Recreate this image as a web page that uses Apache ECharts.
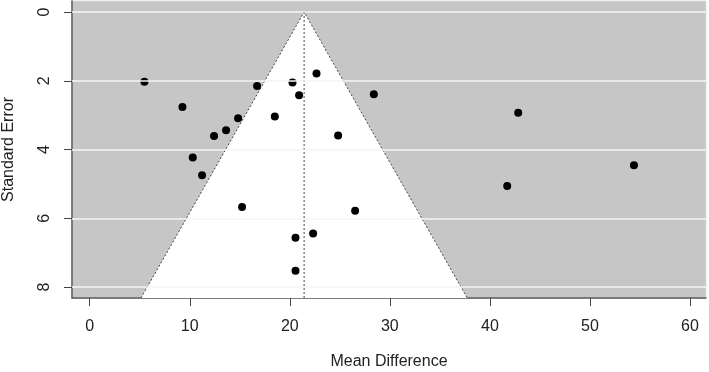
<!DOCTYPE html>
<html>
<head>
<meta charset="utf-8">
<script src="https://cdn.jsdelivr.net/npm/echarts@6/dist/echarts.min.js"></script>
<style>
  * { margin: 0; padding: 0; }
  body { background: #fff; }
  #chart { width: 709px; height: 372px; }
</style>
</head>
<body>
<div id="chart"></div>
<script>
// study estimates (mean difference) and their standard errors
var meanDiff = [5.47, 9.27, 10.3, 11.23, 12.43, 13.63, 14.83, 15.23, 16.73, 18.5, 20.27,
  20.93, 22.67, 20.57, 22.33, 20.57, 24.83, 26.53, 28.4, 42.83, 41.73, 54.4];
var stdErr = [2.03, 2.76, 4.23, 4.75, 3.61, 3.44, 3.09, 5.67, 2.15, 3.04, 2.05,
  2.42, 1.79, 6.57, 6.44, 7.53, 3.59, 5.78, 2.39, 2.93, 5.06, 4.46];

var xTicks = [0, 10, 20, 30, 40, 50, 60];
var yTicks = [0, 2, 4, 6, 8];

// pooled estimate and funnel bottom
var pooled = 21.43;
var seBottom = 8.32;
var z = 1.96;

var points = meanDiff.map(function (v, i) { return [v, stdErr[i]]; });
var funnelEdge = [
  [pooled - z * seBottom, seBottom],
  [pooled, 0],
  [pooled + z * seBottom, seBottom]
];
var centerLine = [[pooled, 0], [pooled, seBottom]];

var myChart = echarts.init(document.getElementById('chart'));
var font = '"Liberation Sans", Arial, sans-serif';

var option = {
  animation: false,
  grid: {
    show: true,
    left: 72,
    right: 3,
    top: 1,
    bottom: 74,
    outerBoundsMode: 'none',
    containLabel: false,
    backgroundColor: '#c6c6c6',
    borderColor: '#dedede',
    borderWidth: 1
  },
  xAxis: {
    type: 'value',
    min: -1.77,
    max: 61.6,
    name: 'Mean Difference',
    nameLocation: 'middle',
    nameGap: 56,
    nameTextStyle: { color: '#222', fontSize: 16, fontFamily: font },
    axisLine: { show: true, onZero: false, lineStyle: { color: '#5a5a5a', width: 1.5 } },
    axisTick: { show: true, length: 8, customValues: xTicks, lineStyle: { color: '#444' } },
    axisLabel: { customValues: xTicks, margin: 21, color: '#222', fontSize: 16, fontFamily: font },
    splitLine: { show: false }
  },
  yAxis: {
    type: 'value',
    inverse: true,
    min: -0.32,
    max: 8.32,
    name: 'Standard Error',
    nameLocation: 'middle',
    nameRotate: 90,
    nameGap: 55,
    nameTextStyle: { color: '#222', fontSize: 16, fontFamily: font },
    axisLine: { show: true, onZero: false, lineStyle: { color: '#5a5a5a', width: 1.5 } },
    axisTick: { show: true, length: 8, customValues: yTicks, lineStyle: { color: '#444' } },
    axisLabel: {
      customValues: yTicks, rotate: 90, margin: 19,
      align: 'center', verticalAlign: 'bottom',
      color: '#222', fontSize: 16, fontFamily: font
    },
    splitLine: { show: false }
  },
  series: [
    {
      // horizontal white grid lines
      type: 'scatter',
      data: [],
      z: 1,
      silent: true,
      markLine: {
        silent: true,
        symbol: ['none', 'none'],
        label: { show: false },
        lineStyle: { color: '#f4f4f4', width: 1.5, type: 'solid' },
        data: yTicks.map(function (t) { return { yAxis: t }; })
      }
    },
    {
      // white funnel region
      type: 'custom',
      z: 2,
      silent: true,
      data: [0],
      renderItem: function (params, api) {
        var pts = funnelEdge.map(function (p) { return api.coord(p); });
        return {
          type: 'polygon',
          shape: { points: pts },
          style: { fill: '#ffffff' }
        };
      }
    },
    {
      type: 'line',
      z: 3,
      data: funnelEdge,
      symbol: 'none',
      silent: true,
      lineStyle: { color: '#444', width: 1, type: [2, 2] }
    },
    {
      type: 'line',
      z: 3,
      data: centerLine,
      symbol: 'none',
      silent: true,
      lineStyle: { color: '#444', width: 1, type: [2, 2] }
    },
    {
      type: 'scatter',
      z: 4,
      data: points,
      symbol: 'circle',
      symbolSize: 8,
      itemStyle: { color: '#000', opacity: 1 }
    }
  ]
};

myChart.setOption(option);
window.onresize = myChart.resize;
</script>
</body>
</html>
